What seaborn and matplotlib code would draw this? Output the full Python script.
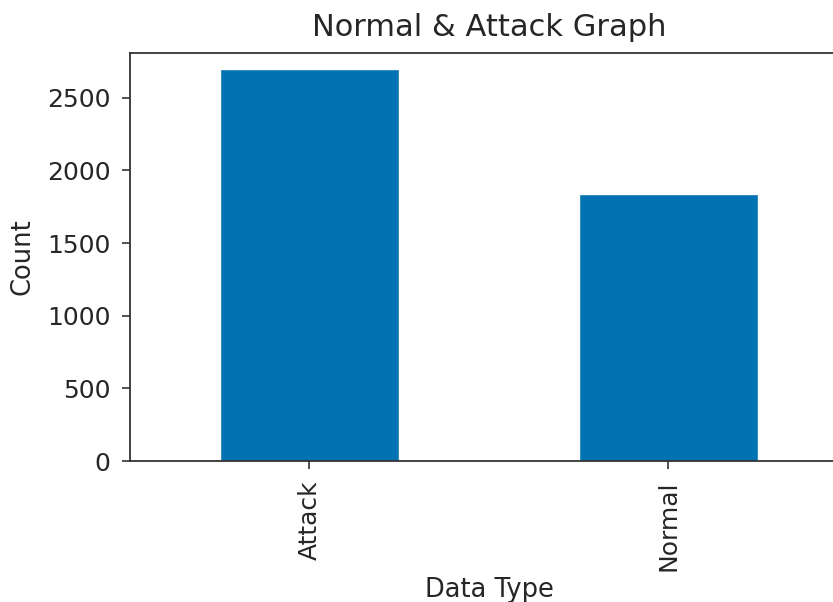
import matplotlib
matplotlib.use("Agg")
import matplotlib.pyplot as plt
import seaborn as sns
import pandas as pd

categories = ["Attack", "Normal"]
counts = [2695, 1838]

df = pd.DataFrame({"Data Type": categories, "Count": counts})

sns.set_style("ticks")
plt.rcParams['font.family'] = ['DejaVu Sans']

fig = plt.figure(figsize=(8.33, 6.02), dpi=100)
ax = fig.add_axes([0.156, 0.234, 0.862, 0.678])
sns.barplot(data=df, x="Data Type", y="Count", color="#0173B2", width=0.5,
            saturation=1, ax=ax)
ax.set_xlim(-0.5, 1.5)
ax.set_ylim(0, 2808)
ax.set_yticks([0, 500, 1000, 1500, 2000, 2500])
ax.tick_params(axis="both", labelsize=18, length=6, width=1.2, pad=8,
               color="#333333")
for lbl in ax.get_xticklabels():
    lbl.set_rotation(90)
ax.set_xlabel("Data Type", fontsize=18.5, labelpad=4)
ax.set_ylabel("Count", fontsize=18.5, labelpad=8)
ax.set_title("Normal & Attack Graph", fontsize=22, pad=12)
for s in ax.spines.values():
    s.set_visible(True)
    s.set_color("#333333")
    s.set_linewidth(1.3)
fig.savefig("out.png", dpi=100)
